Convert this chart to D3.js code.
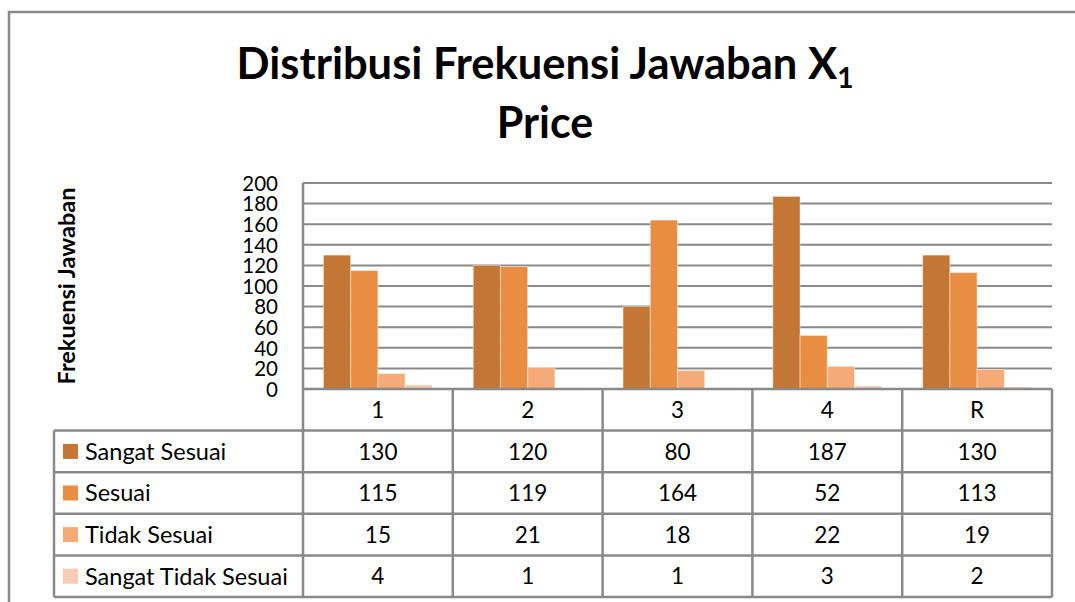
<!DOCTYPE html>
<html>
<head>
<meta charset="utf-8">
<script src="https://cdn.jsdelivr.net/npm/d3@7"></script>
<style>
  body { margin: 0; background: #fff; }
  svg text { font-family: Lato, "Open Sans", sans-serif; fill: #000; }
</style>
</head>
<body>
<div id="chart"></div>
<script>
// data
const categories = ['1', '2', '3', '4', 'R'];
const seriesNames = ['Sangat Sesuai', 'Sesuai', 'Tidak Sesuai', 'Sangat Tidak Sesuai'];
const sangatSesuai = [130, 120, 80, 187, 130];
const sesuai = [115, 119, 164, 52, 113];
const tidakSesuai = [15, 21, 18, 22, 19];
const sangatTidakSesuai = [4, 1, 1, 3, 2];
const yTicks = [0, 20, 40, 60, 80, 100, 120, 140, 160, 180, 200];
const colors = ['#c47635', '#e98d43', '#f5ab78', '#f8ccb3'];

const seriesValues = [sangatSesuai, sesuai, tidakSesuai, sangatTidakSesuai];

function createVisualization() {
  const width = 1075, height = 602;
  const plot = { left: 303, right: 1052, top: 183, bottom: 389 };
  const rowH = 41.6;
  const tableLeft = 54;
  const gridColor = '#898989';

  const svg = d3.select('#chart').append('svg')
    .attr('width', width)
    .attr('height', height);

  // outer chart border (only top and left are visible)
  svg.append('path')
    .attr('d', `M9,${height} V12 H${width}`)
    .attr('fill', 'none')
    .attr('stroke', gridColor)
    .attr('stroke-width', 2.5);

  // title
  const title = svg.append('text')
    .attr('x', 545)
    .attr('y', 79)
    .attr('text-anchor', 'middle')
    .style('font-size', '43.5px')
    .style('font-weight', 'bold');
  title.append('tspan').text('Distribusi Frekuensi Jawaban X');
  title.append('tspan').attr('dy', 9).style('font-size', '28px').text('1');

  svg.append('text')
    .attr('x', 545)
    .attr('y', 138)
    .attr('text-anchor', 'middle')
    .style('font-size', '43px')
    .style('font-weight', 'bold')
    .text('Price');

  // scales
  const x = d3.scaleBand()
    .domain(categories)
    .range([plot.left, plot.right])
    .paddingInner(0)
    .paddingOuter(0);

  const xInner = d3.scaleBand()
    .domain(seriesNames)
    .range([0, x.bandwidth()])
    .paddingInner(0)
    .paddingOuter(0.75);

  const y = d3.scaleLinear()
    .domain([0, 200])
    .range([plot.bottom, plot.top]);

  // gridlines
  svg.append('g')
    .selectAll('line')
    .data(yTicks)
    .join('line')
    .attr('x1', plot.left)
    .attr('x2', plot.right)
    .attr('y1', d => y(d))
    .attr('y2', d => y(d))
    .attr('stroke', gridColor)
    .attr('stroke-width', 2);

  // y axis labels
  const yAxis = svg.append('g')
    .attr('transform', `translate(${plot.left},0)`)
    .call(d3.axisLeft(y).tickValues(yTicks).tickSize(0).tickPadding(25));
  yAxis.select('.domain').remove();
  yAxis.selectAll('text')
    .style('font-size', '20.5px')
    .attr('dy', '0.36em');

  // y axis title
  svg.append('text')
    .attr('transform', `translate(75,286) rotate(-90)`)
    .attr('text-anchor', 'middle')
    .style('font-size', '23.5px')
    .style('font-weight', 'bold')
    .text('Frekuensi Jawaban');

  // bars
  const groups = svg.append('g')
    .selectAll('g')
    .data(seriesNames)
    .join('g')
    .attr('fill', (d, i) => colors[i]);

  groups.selectAll('rect')
    .data((name, i) => seriesValues[i].map((v, j) => ({ name, cat: categories[j], value: v })))
    .join('rect')
    .attr('x', d => x(d.cat) + xInner(d.name))
    .attr('y', d => y(d.value))
    .attr('width', xInner.bandwidth())
    .attr('height', d => plot.bottom - y(d.value))
    .attr('stroke', '#ffffff')
    .attr('stroke-opacity', 0.45)
    .attr('stroke-width', 1);

  // data table
  const tableTop = plot.bottom + rowH;
  const tableBottom = tableTop + rowH * seriesNames.length;
  const lines = svg.append('g')
    .attr('stroke', gridColor)
    .attr('stroke-width', 2.5)
    .attr('fill', 'none');

  // category row and table horizontal lines
  lines.append('line')
    .attr('x1', plot.left).attr('x2', plot.right)
    .attr('y1', plot.bottom).attr('y2', plot.bottom);
  d3.range(seriesNames.length + 1).forEach(i => {
    lines.append('line')
      .attr('x1', tableLeft).attr('x2', plot.right)
      .attr('y1', tableTop + i * rowH).attr('y2', tableTop + i * rowH);
  });
  // vertical lines
  lines.append('line')
    .attr('x1', tableLeft).attr('x2', tableLeft)
    .attr('y1', tableTop).attr('y2', tableBottom);
  lines.append('line')
    .attr('x1', plot.left).attr('x2', plot.left)
    .attr('y1', plot.top).attr('y2', tableBottom);
  categories.forEach(c => {
    lines.append('line')
      .attr('x1', x(c) + x.bandwidth()).attr('x2', x(c) + x.bandwidth())
      .attr('y1', plot.bottom).attr('y2', tableBottom);
  });

  // category labels
  svg.append('g')
    .selectAll('text')
    .data(categories)
    .join('text')
    .attr('x', d => x(d) + x.bandwidth() / 2)
    .attr('y', plot.bottom + rowH / 2)
    .attr('dy', '0.36em')
    .attr('text-anchor', 'middle')
    .style('font-size', '22.5px')
    .text(d => d);

  // legend keys and names
  const rows = svg.append('g')
    .selectAll('g')
    .data(seriesNames)
    .join('g')
    .attr('transform', (d, i) => `translate(0,${tableTop + i * rowH + rowH / 2})`);

  rows.append('rect')
    .attr('x', 63)
    .attr('y', -7.5)
    .attr('width', 15)
    .attr('height', 15)
    .attr('fill', (d, i) => colors[i]);

  rows.append('text')
    .attr('x', 85)
    .attr('dy', '0.36em')
    .style('font-size', '23.5px')
    .text(d => d);

  rows.selectAll('text.val')
    .data((name, i) => seriesValues[i].map((v, j) => ({ cat: categories[j], value: v })))
    .join('text')
    .attr('class', 'val')
    .attr('x', d => x(d.cat) + x.bandwidth() / 2)
    .attr('dy', '0.36em')
    .attr('text-anchor', 'middle')
    .style('font-size', '22.5px')
    .text(d => d.value);
}

createVisualization();
</script>
</body>
</html>
